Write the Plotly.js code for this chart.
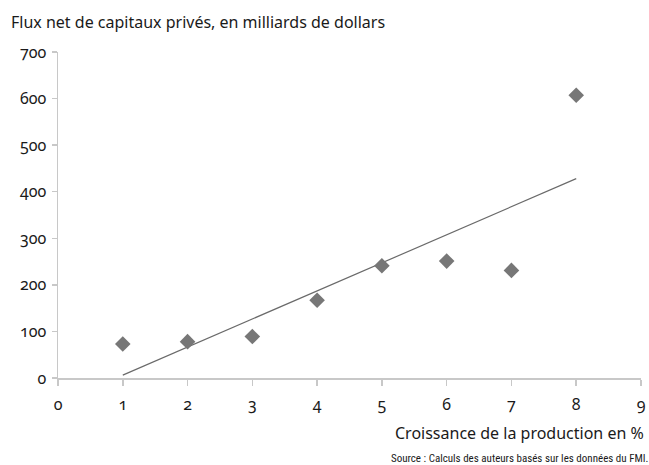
<!DOCTYPE html>
<html>
<head>
<meta charset="utf-8">
<script src="https://cdn.plot.ly/plotly-3.0.1.min.js"></script>
<style>
html,body{margin:0;padding:0;background:#fff;}
#chart text{font-feature-settings:"onum" 1;}
</style>
</head>
<body>
<div id="chart" style="width:649px;height:465px;"></div>
<script>
// Data
const growth = [1, 2, 3, 4, 5, 6, 7, 8];           // Croissance de la production en %
const flows  = [73, 78, 89, 167, 241, 251, 231, 607]; // Flux net, milliards de dollars
const xTicks = [0, 1, 2, 3, 4, 5, 6, 7, 8, 9];
const yTicks = [0, 100, 200, 300, 400, 500, 600, 700];

// Least-squares trend line
const n = growth.length;
const mx = growth.reduce((a,b)=>a+b,0)/n;
const my = flows.reduce((a,b)=>a+b,0)/n;
let sxy = 0, sxx = 0;
for (let i=0;i<n;i++){ sxy += (growth[i]-mx)*(flows[i]-my); sxx += (growth[i]-mx)**2; }
const slope = sxy/sxx, icpt = my - slope*mx;
const trendX = [growth[0], growth[n-1]];
const trendY = trendX.map(x => icpt + slope*x);

const font = "Noto Sans, Open Sans, sans-serif";
const traces = [
  {x: trendX, y: trendY, mode: 'lines', type: 'scatter',
   line: {color: '#6a6a6a', width: 1.2}, hoverinfo: 'skip'},
  {x: growth, y: flows, mode: 'markers', type: 'scatter',
   marker: {symbol: 'diamond', size: 12, color: '#777777'}}
];
const layout = {
  width: 649, height: 465,
  margin: {l: 58, r: 8, t: 52, b: 87},
  paper_bgcolor: '#fff', plot_bgcolor: '#fff',
  showlegend: false,
  font: {family: font, color: '#1a1a1a', size: 14},
  xaxis: {range: [0, 9], tickvals: xTicks, ticktext: xTicks.map(String),
    showgrid: false, zeroline: false, showline: true, linecolor: '#c8c8c8', linewidth: 1.5,
    ticks: 'outside', ticklen: 6, tickcolor: '#c8c8c8', tickwidth: 1.5,
    ticklabelstandoff: 5, tickfont: {size: 16, color: '#1a1a1a', family: font}},
  yaxis: {range: [0, 700], tickvals: yTicks, ticktext: yTicks.map(String),
    showgrid: false, zeroline: false, showline: true, linecolor: '#c8c8c8', linewidth: 1.5,
    ticks: 'outside', ticklen: 5, tickcolor: '#c8c8c8', tickwidth: 1.5,
    ticklabelstandoff: 2, tickfont: {size: 16, color: '#1a1a1a', family: font}},
  annotations: [
    {text: 'Flux net de capitaux privés, en milliards de dollars', xref: 'paper', yref: 'paper',
     x: -49/583, y: 1 + 30/326, xanchor: 'left', yanchor: 'middle', showarrow: false,
     font: {size: 16, color: '#1a1a1a', family: font}},
    {text: 'Croissance de la production en %', xref: 'paper', yref: 'paper',
     x: 1 + 5/583, y: -55/326, xanchor: 'right', yanchor: 'middle', showarrow: false,
     font: {size: 16, color: '#1a1a1a', family: font}},
    {text: 'Source : Calculs des auteurs basés sur les données du FMI.', xref: 'paper', yref: 'paper',
     x: 1 + 9/583, y: -80/326, xanchor: 'right', yanchor: 'middle', showarrow: false,
     font: {size: 11, color: '#1a1a1a', family: 'Liberation Sans Narrow, Roboto Condensed, sans-serif'}}
  ]
};
Plotly.newPlot('chart', traces, layout, {displayModeBar: false, staticPlot: true});
</script>
</body>
</html>
